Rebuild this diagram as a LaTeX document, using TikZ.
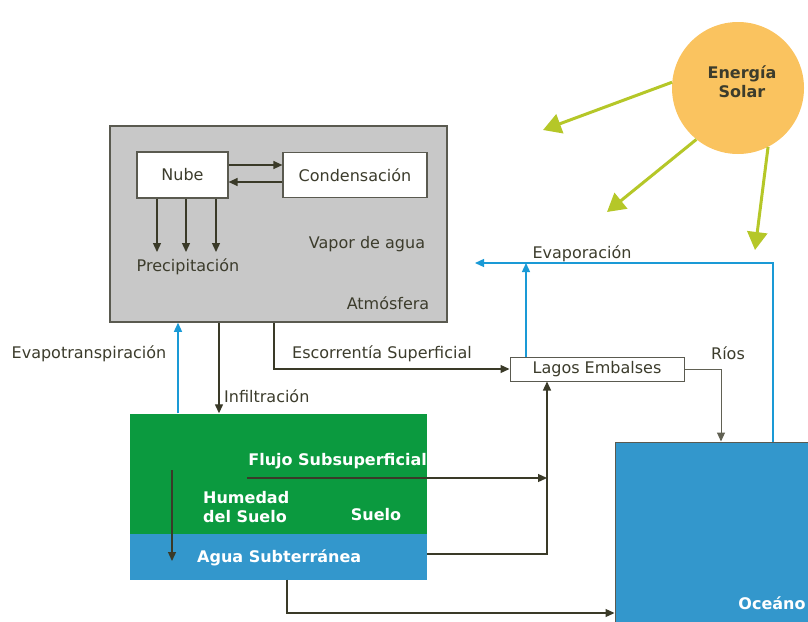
\documentclass[tikz,border=0pt]{standalone}
\usepackage{fontspec}
\setmainfont{DejaVu Sans}
\usetikzlibrary{arrows.meta}
\definecolor{txt}{HTML}{3C3C2C}
\definecolor{ln}{HTML}{3A3A28}
\definecolor{atmfill}{HTML}{C8C8C8}
\definecolor{atmline}{HTML}{5A5A50}
\definecolor{soilgreen}{HTML}{0B9A3F}
\definecolor{waterblue}{HTML}{3397CC}
\definecolor{evapblue}{HTML}{1A9AD6}
\definecolor{sunfill}{HTML}{FAC35F}
\definecolor{ray}{HTML}{B5C728}
\tikzset{
  lbl/.style={text=txt,font=\fontsize{16}{19}\selectfont,inner sep=0pt},
  wlbl/.style={text=white,font=\fontsize{16}{19.5}\selectfont\bfseries,inner sep=0pt,align=left},
  box/.style={draw=atmline,line width=1.2pt,fill=white,inner sep=0pt,text=txt,font=\fontsize{16}{19}\selectfont},
  arr/.style={draw=ln,line width=1.3pt,-{Triangle[length=9pt,width=8pt]}},
  thinarr/.style={draw=ln!80!white,line width=1pt,-{Triangle[length=9pt,width=8pt]}},
  barr/.style={draw=evapblue,line width=1.3pt,-{Triangle[length=9pt,width=8pt]}},
  rayarr/.style={draw=ray,line width=3pt,-{Triangle[length=18pt,width=20pt]}}
}
\begin{document}
\begin{tikzpicture}[x=1pt,y=-1pt]
\useasboundingbox (0,0) rectangle (808,621);
\begin{scope}
\clip (0,0) rectangle (808,621);
% ocean
\node[fill=waterblue,draw=atmline,line width=1pt,minimum width=200pt,minimum height=190pt,inner sep=0pt] (ocean) at (715,537) {};
% sun
\node[circle,fill=sunfill,minimum size=132pt,inner sep=0pt] (sun) at (738,88) {};
\end{scope}
\node[text=txt,font=\fontsize{16}{19}\selectfont\bfseries,align=center,inner sep=0pt] (suntxt) at (742,82) {Energía\\Solar};
\coordinate (s1) at (543,130);
\coordinate (s2) at (607,212);
\coordinate (s3) at (755,250);
\draw[rayarr] (sun.175) -- (s1);
\draw[rayarr] (sun.231) -- (s2);
\draw[rayarr] (sun.297) -- (s3);

% atmosphere
\node[draw=atmline,fill=atmfill,line width=1.5pt,minimum width=337pt,minimum height=196pt,inner sep=0pt] (atm) at (278.5,224) {};
\node[box,minimum width=91pt,minimum height=46pt] (nube) at (182.5,175) {Nube};
\node[box,minimum width=144pt,minimum height=45pt] (cond) at (355,175) {Condensación};
\draw[arr] (nube.east |- 0,165) -- (cond.west |- 0,165);
\draw[arr] (cond.west |- 0,182) -- (nube.east |- 0,182);
\coordinate (p1) at (157,252);
\coordinate (p2) at (186,252);
\coordinate (p3) at (216,252);
\draw[arr] (nube.south -| p1) -- (p1);
\draw[arr] (nube.south -| p2) -- (p2);
\draw[arr] (nube.south -| p3) -- (p3);
\node[lbl] (prec) at (188,267) {Precipitación};
\node[lbl] (vapor) at (367,244) {Vapor de agua};
\node[lbl] (atmtxt) at (388,303) {Atmósfera};

% soil and groundwater
\node[fill=soilgreen,minimum width=297pt,minimum height=120pt,inner sep=0pt] (suelo) at (278.5,473.5) {};
\node[fill=waterblue,minimum width=297pt,minimum height=46pt,inner sep=0pt] (agua) at (278.5,556.5) {};
\node[wlbl,anchor=east] (flujotxt) at (427,461) {Flujo Subsuperficial};
\node[wlbl,anchor=west] (humedad) at (203,507) {Humedad\\del Suelo};
\node[wlbl] (suelotxt) at (376,515) {Suelo};
\node[wlbl,anchor=west] (aguatxt) at (197,558) {Agua Subterránea};
\coordinate (sd1) at (172,470);
\coordinate (sd2) at (172,561);
\draw[arr] (sd1) -- (sd2);

% lakes
\node[box,line width=1pt,minimum width=174pt,minimum height=24pt] (lagos) at (597,369) {Lagos Embalses};

% Evapotranspiration and infiltration
\coordinate (ev) at (178,0);
\coordinate (inf) at (219,0);
\coordinate (esc) at (274,0);
\draw[barr] (suelo.north -| ev) -- (atm.south -| ev);
\node[lbl] (evtxt) at (89,354) {Evapotranspiración};
\draw[arr] (atm.south -| inf) -- (suelo.north -| inf);
\node[lbl,anchor=west] (inftxt) at (224,396) {Infiltración};
\draw[arr] (atm.south -| esc) |- (lagos.west);
\node[lbl] (esctxt) at (382,354) {Escorrentía Superficial};

% Evaporation
\coordinate (evapend) at (475,263);
\coordinate (lx) at (526,0);
\coordinate (ox) at (773,0);
\draw[barr] (ocean.north -| ox) |- (evapend);
\draw[barr] (lagos.north -| lx) -- (lx |- evapend);
\node[lbl] (evaptxt) at (582,254) {Evaporación};

% Rivers
\coordinate (rx) at (721,0);
\draw[thinarr] (lagos.east) -| (ocean.north -| rx);
\node[lbl] (riostxt) at (728,353) {Ríos};

% Subsurface flow & groundwater to lakes
\coordinate (fstart) at (247,478);
\coordinate (jx) at (547,0);
\draw[arr] (fstart) -- (jx |- fstart);
\coordinate (ay) at (0,554);
\draw[arr] (agua.east |- ay) -| (lagos.south -| jx);
% groundwater to ocean
\coordinate (gx) at (287,0);
\coordinate (gy) at (0,613);
\draw[arr] (agua.south -| gx) |- (ocean.west |- gy);
\node[wlbl] (oceantxt) at (772,603) {Oceáno};
\end{tikzpicture}
\end{document}
